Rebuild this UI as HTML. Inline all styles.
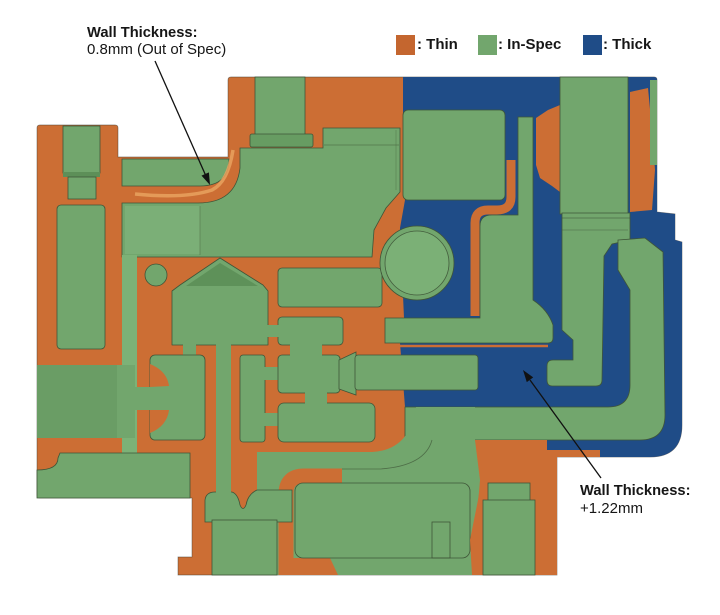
<!DOCTYPE html>
<html><head><meta charset="utf-8">
<style>
html,body{margin:0;padding:0;background:#fff;width:720px;height:615px;overflow:hidden}
svg{display:block}
text{font-family:"Liberation Sans",sans-serif;fill:#161616}
</style></head><body>
<svg width="720" height="615" viewBox="0 0 720 615" xmlns="http://www.w3.org/2000/svg">
<defs>
<style>
.g{fill:#72a66d;stroke:#3f5538;stroke-width:0.8}
.gn{fill:#72a66d}
.o{fill:#cc6e34}
.b{fill:#1f4c87}
</style>
</defs>

<!-- silhouette (orange base) -->
<path class="o" stroke="#3a3a30" stroke-width="0.7" stroke-opacity="0.6" d="M37,128 Q37,125 40,125 L115,125 Q118,125 118,128 L118,157 L228,157 L228,80 Q228,77 231,77 L654,77 Q657,77 657,80 L657,212 L675,214 L675,240 L682,242 L682,425 Q682,457 650,457 L557,457 L557,575 L178,575 L178,557 L192,557 L192,498 L40,498 Q37,498 37,495 Z"/>

<!-- blue base right side -->
<path class="b" d="M403,77 L654,77 Q657,77 657,80 L657,212 L675,214 L675,240 L682,242 L682,425 Q682,457 650,457 L547,457 L547,407 L405,407 L400,343 L404,318 L400,228 L405,200 L403,130 Z"/>

<!-- LEFT TOWER -->
<rect class="g" x="63" y="126" width="37" height="47"/>
<rect x="63" y="172" width="37" height="5" fill="#5d8f58"/>
<rect class="g" x="68" y="177" width="28" height="22"/>
<rect class="g" x="57" y="205" width="48" height="144" rx="4"/>

<!-- top strip & thin wall -->
<path class="g" d="M122,159 L229,159 Q229,186 200,186 L122,186 Z"/>
<path d="M135,194 Q185,199 212,190 Q228,182 233,150" stroke="#e7a25f" stroke-width="3.5" fill="none" opacity="0.85"/>

<!-- top tower -->
<rect class="g" x="255" y="77" width="50" height="58"/>
<rect x="250" y="134" width="63" height="13" rx="2" fill="#679c62" stroke="#3f5538" stroke-width="0.8"/>

<!-- big green region G2 -->
<path class="g" d="M122,203 L198,203 Q236,203 240,168 L240,148 L323,148 L323,128 L400,128 L400,192 L386,208 L374,230 L372,257 L122,257 Z"/>
<rect x="125" y="206" width="75" height="48" fill="#88bb82" opacity="0.45"/>
<line x1="200" y1="206" x2="200" y2="255" stroke="#4d6a45" stroke-width="0.8" opacity="0.6"/>
<line x1="324" y1="145" x2="399" y2="145" stroke="#4d6a45" stroke-width="1" opacity="0.6"/>
<line x1="396" y1="130" x2="396" y2="190" stroke="#4d6a45" stroke-width="0.8" opacity="0.5"/>

<!-- narrow channel -->
<rect x="122" y="255" width="15" height="198" fill="#7cb277"/>

<!-- small circle -->
<circle class="g" cx="156" cy="275" r="11"/>

<!-- house -->
<polygon class="g" stroke-linejoin="round" points="172,345 172,291 180,285 220,258 263,285 268,291 268,345"/>
<polygon points="186,286 220,263 258,286" fill="#5e9159"/>

<!-- rects right of house -->
<rect class="g" x="278" y="268" width="104" height="39" rx="4"/>
<rect class="g" x="278" y="317" width="65" height="28" rx="4"/>
<rect class="gn" x="266" y="325" width="14" height="12"/>
<rect class="gn" x="183" y="341" width="13" height="16"/>

<!-- left big rect & mouth -->
<rect class="gn" x="37" y="365" width="98" height="73"/>
<rect x="37" y="365" width="80" height="73" fill="#6a9d65"/>
<rect class="g" x="150" y="355" width="55" height="85" rx="5"/>
<rect class="gn" x="133" y="387" width="20" height="23"/>
<path class="o" d="M150,364 Q167,371 169,386 L150,387 Z"/>
<path class="o" d="M150,410 L169,410 Q167,426 150,433 Z"/>

<!-- stem and tall rect -->
<rect class="gn" x="216" y="343" width="15" height="152"/>
<rect class="g" x="240" y="355" width="25" height="87" rx="3"/>
<rect class="gn" x="263" y="367" width="17" height="13"/>
<rect class="gn" x="263" y="413" width="17" height="13"/>

<!-- middle rects -->
<rect class="g" x="278" y="355" width="62" height="38" rx="4"/>
<polygon class="g" points="339,360 356,352 356,395 339,389"/>
<rect class="g" x="355" y="355" width="123" height="35" rx="3"/>
<rect class="g" x="278" y="403" width="97" height="39" rx="6"/>
<rect class="gn" x="290" y="343" width="32" height="14"/>
<rect class="gn" x="305" y="391" width="22" height="14"/>

<!-- bottom-left green -->
<path class="g" d="M60,453 L190,453 L190,498 L37,498 L37,470 Q58,470 58,458 Z"/>

<!-- RIGHT SIDE -->
<rect class="g" x="403" y="110" width="102" height="90" rx="5"/>
<path class="o" d="M536,118 L548,110 L560,105 L560,192 L552,186 L540,178 L536,165 Z"/>
<rect class="g" x="560" y="77" width="68" height="137"/>
<path class="o" d="M630,92 L648,88 L652,130 L655,170 L652,210 L630,212 Z"/>
<rect class="gn" x="650" y="80" width="7" height="85"/>

<!-- L2 green -->
<path class="g" d="M562,213 L630,213 L630,240 L612,244 L604,256 L602,380 Q602,386 596,386 L552,386 Q547,386 547,380 L547,366 Q547,360 553,360 L573,360 L573,340 L562,330 Z"/>
<line x1="562" y1="218" x2="630" y2="218" stroke="#3f5538" stroke-width="0.8" opacity="0.7"/>
<line x1="562" y1="230" x2="628" y2="230" stroke="#3f5538" stroke-width="0.8" opacity="0.5"/>

<!-- L3 green -->
<path class="g" d="M618,240 L645,238 L663,252 L665,415 Q665,440 640,440 L405,440 L405,407 L608,407 Q630,407 630,385 L630,290 L618,270 Z"/>

<!-- green column + bar -->
<path class="g" d="M385,318 L480,318 L480,226 Q480,215 492,215 L518,215 L518,117 L533,117 L533,300 Q548,310 553,325 L553,338 Q553,343 548,343 L385,343 Z"/>
<path d="M511,160 L511,197 Q511,210 497,210 L488,210 Q475,210 475,223 L475,316" stroke="#cc6e34" stroke-width="9" fill="none"/>
<line x1="400" y1="346" x2="548" y2="346" stroke="#cc6e34" stroke-width="2.5"/>

<!-- circle -->
<circle class="g" cx="417" cy="263" r="37"/>
<circle cx="417" cy="263" r="32" fill="#7cb277" stroke="#3f5538" stroke-width="0.8" opacity="0.9"/>

<!-- LOWER MIDDLE -->
<path class="gn" d="M257,452 L372,452 Q410,450 416,407 L475,407 L475,440 L480,480 L472,575 L257,575 Z"/>
<path d="M340,469 L380,469 Q425,466 432,440" stroke="#3f5538" stroke-width="0.8" fill="none" opacity="0.7"/>
<path d="M286,575 L286,494 Q286,476 304,476 L342,476" stroke="#cc6e34" stroke-width="15" fill="none"/>
<polygon class="o" points="293,558 330,558 338,575 293,575"/>
<rect class="g" x="295" y="483" width="175" height="75" rx="8"/>
<rect x="432" y="522" width="18" height="36" fill="none" stroke="#3f5538" stroke-width="0.8"/>

<!-- funnel, cylinder -->
<path class="g" d="M205,522 L205,500 Q206,492 215,492 L232,492 Q238,494 240,505 Q243,512 246,505 Q248,494 257,490 L292,490 L292,522 Z"/>
<rect class="gn" x="216" y="480" width="15" height="20"/>
<rect class="g" x="212" y="520" width="65" height="55"/>

<!-- right-bottom orange block & cylinder -->
<path class="o" d="M475,440 L547,440 L547,450 L600,450 L600,457 L557,457 L557,575 L472,575 L470,540 L478,500 L483,470 Z"/>
<rect class="g" x="488" y="483" width="42" height="18"/>
<rect class="g" x="483" y="500" width="52" height="75"/>

<!-- legend -->
<rect x="396" y="35" width="19" height="20" fill="#c4662f"/>
<text x="417" y="49" font-size="15" font-weight="bold">: Thin</text>
<rect x="478" y="35" width="19" height="20" fill="#72a66d"/>
<text x="498" y="49" font-size="15" font-weight="bold">: In-Spec</text>
<rect x="583" y="35" width="19" height="20" fill="#1f4c87"/>
<text x="603" y="49" font-size="15" font-weight="bold">: Thick</text>

<!-- callout 1 -->
<text x="87" y="37" font-size="14.7" font-weight="bold">Wall Thickness:</text>
<text x="87" y="54" font-size="15">0.8mm (Out of Spec)</text>
<line x1="155" y1="61" x2="205.5" y2="175" stroke="#111" stroke-width="1.3"/>
<polygon points="210,185 208.9,172.4 201.5,175.6" fill="#111"/>

<!-- callout 2 -->
<line x1="601" y1="478" x2="530" y2="380" stroke="#111" stroke-width="1.3"/>
<polygon points="523,370 533.2,377.4 526.8,382.1" fill="#111"/>
<text x="580" y="495" font-size="14.7" font-weight="bold">Wall Thickness:</text>
<text x="580" y="513" font-size="15">+1.22mm</text>
</svg>
</body></html>
